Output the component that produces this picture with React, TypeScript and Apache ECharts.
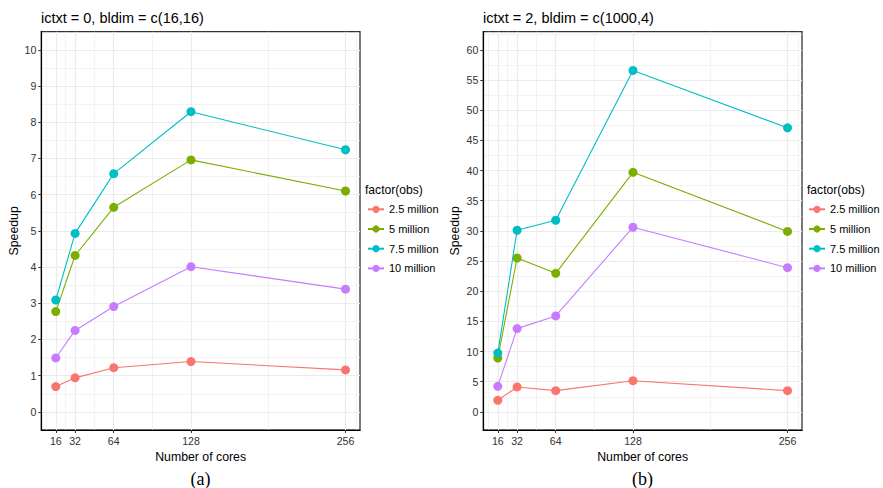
import React, { useEffect, useRef } from "react";
import * as echarts from "echarts";

const cores = [16, 32, 64, 128, 256];
const seriesNames = ["2.5 million", "5 million", "7.5 million", "10 million"];
const colors = ["#F8766D", "#7CAE00", "#00BFC4", "#C77CFF"];

// Panel (a): ictxt = 0, bldim = c(16,16)
const a25 = [0.7, 0.94, 1.22, 1.39, 1.16];
const a5 = [2.77, 4.32, 5.65, 6.96, 6.1];
const a75 = [3.09, 4.93, 6.58, 8.29, 7.24];
const a10 = [1.49, 2.25, 2.91, 4.01, 3.39];

// Panel (b): ictxt = 2, bldim = c(1000,4)
const b25 = [1.92, 4.13, 3.52, 5.17, 3.52];
const b5 = [8.92, 25.5, 22.96, 39.7, 29.9];
const b75 = [9.74, 30.1, 31.76, 56.58, 47.07];
const b10 = [4.23, 13.8, 15.9, 30.6, 23.9];

const yTicksA = [0, 1, 2, 3, 4, 5, 6, 7, 8, 9, 10];
const yMinorA = [0.5, 1.5, 2.5, 3.5, 4.5, 5.5, 6.5, 7.5, 8.5, 9.5];
const yTicksB = [0, 5, 10, 15, 20, 25, 30, 35, 40, 45, 50, 55, 60];
const yMinorB = [2.5, 7.5, 12.5, 17.5, 22.5, 27.5, 32.5, 37.5, 42.5, 47.5, 52.5, 57.5, 62.5];
const xMinor = [8, 24, 48, 96, 192, 265];

const FONT = "'Liberation Sans', Arial, Helvetica, sans-serif";
const GRID_COLOR = "#ebebeb";

export default function App() {
  const ref = useRef<HTMLDivElement>(null);
  useEffect(() => {
    if (!ref.current) return;
    const chart = echarts.init(ref.current, undefined, { renderer: "svg" });

    const grids = [
      { left: 41.3, top: 31.7, width: 318.7, height: 398.3 },
      { left: 483.3, top: 31.7, width: 318.7, height: 398.3 },
    ];

    const panelData = [
      [a25, a5, a75, a10],
      [b25, b5, b75, b10],
    ];
    const yRanges = [
      { min: -0.5, max: 10.5, ticks: yTicksA, minor: yMinorA },
      { min: -3, max: 63, ticks: yTicksB, minor: yMinorB },
    ];

    const xAxes = grids.map((_, i) => ({
      type: "value",
      gridIndex: i,
      min: 4,
      max: 268,
      name: "Number of cores",
      nameLocation: "middle",
      nameGap: 18,
      nameTextStyle: { fontFamily: FONT, fontSize: 12.3, color: "#000" },
      axisLine: { show: true, onZero: false, lineStyle: { color: "#000", width: 1.2 } },
      axisTick: { show: true, length: 3, customValues: cores, lineStyle: { color: "#333", width: 1 } },
      axisLabel: { customValues: cores, fontFamily: FONT, fontSize: 10.6, color: "#333", margin: 5 },
      splitLine: { show: false },
      z: 5,
    }));

    const yAxes = grids.map((_, i) => ({
      type: "value",
      gridIndex: i,
      min: yRanges[i].min,
      max: yRanges[i].max,
      name: "Speedup",
      nameLocation: "middle",
      nameGap: i === 0 ? 21 : 22,
      nameTextStyle: { fontFamily: FONT, fontSize: 12.3, color: "#000" },
      axisLine: { show: true, onZero: false, lineStyle: { color: "#000", width: 1.2 } },
      axisTick: { show: true, length: 3, customValues: yRanges[i].ticks, lineStyle: { color: "#333", width: 1 } },
      axisLabel: { customValues: yRanges[i].ticks, fontFamily: FONT, fontSize: 10.6, color: "#333", margin: 5 },
      splitLine: { show: false },
      z: 5,
    }));

    const series: any[] = [];
    grids.forEach((_, p) => {
      const lineData: any[] = [];
      yRanges[p].minor.forEach((v) =>
        lineData.push({ yAxis: v, lineStyle: { color: GRID_COLOR, width: 0.6, type: "solid" } })
      );
      yRanges[p].ticks.forEach((v) =>
        lineData.push({ yAxis: v, lineStyle: { color: GRID_COLOR, width: 1.2, type: "solid" } })
      );
      xMinor.forEach((v) =>
        lineData.push({ xAxis: v, lineStyle: { color: GRID_COLOR, width: 0.6, type: "solid" } })
      );
      cores.forEach((v) =>
        lineData.push({ xAxis: v, lineStyle: { color: GRID_COLOR, width: 1.2, type: "solid" } })
      );
      series.push({
        type: "line",
        name: "_grid" + p,
        xAxisIndex: p,
        yAxisIndex: p,
        data: [],
        z: 0,
        silent: true,
        markLine: {
          silent: true,
          z: 0,
          symbol: ["none", "none"],
          label: { show: false },
          emphasis: { disabled: true },
          animation: false,
          data: lineData,
        },
      });
      panelData[p].forEach((vals, s) => {
        series.push({
          type: "line",
          name: seriesNames[s],
          xAxisIndex: p,
          yAxisIndex: p,
          data: cores.map((c, k) => [c, vals[k]]),
          symbol: "circle",
          symbolSize: 9,
          showSymbol: true,
          color: colors[s],
          lineStyle: { color: colors[s], width: 1.1 },
          itemStyle: { color: colors[s] },
          z: 2 + s,
        });
      });
    });

    const legendBase = {
      orient: "vertical",
      top: 202.8,
      itemWidth: 16,
      itemHeight: 9,
      itemGap: 6.7,
      padding: 0,
      data: seriesNames,
      textStyle: { fontFamily: FONT, fontSize: 11, color: "#000", lineHeight: 13 },
    };

    chart.setOption({
      animation: false,
      backgroundColor: "#fff",
      title: [
        {
          text: "ictxt = 0, bldim = c(16,16)",
          left: 41,
          top: 10,
          padding: 0,
          textStyle: { fontFamily: FONT, fontSize: 14.5, fontWeight: "normal", color: "#000" },
        },
        {
          text: "ictxt = 2, bldim = c(1000,4)",
          left: 483,
          top: 10,
          padding: 0,
          textStyle: { fontFamily: FONT, fontSize: 14.5, fontWeight: "normal", color: "#000" },
        },
      ],
      grid: grids.map((g) => ({
        ...g,
        show: true,
        borderColor: "#333",
        borderWidth: 1.3,
        backgroundColor: "transparent",
        containLabel: false,
      })),
      xAxis: xAxes,
      yAxis: yAxes,
      legend: [
        { ...legendBase, left: 367 },
        { ...legendBase, left: 808 },
      ],
      graphic: [
        {
          type: "text",
          left: 365,
          top: 184,
          style: { text: "factor(obs)", font: `12.1px ${FONT}`, fill: "#000" },
        },
        {
          type: "text",
          left: 807,
          top: 184,
          style: { text: "factor(obs)", font: `12.1px ${FONT}`, fill: "#000" },
        },
        {
          type: "text",
          x: 200.6,
          y: 479,
          style: {
            text: "(a)",
            font: "18px 'Liberation Serif', 'DejaVu Serif', serif",
            fill: "#000",
            align: "center",
            verticalAlign: "middle",
          },
        },
        {
          type: "text",
          x: 642.6,
          y: 479,
          style: {
            text: "(b)",
            font: "18px 'Liberation Serif', 'DejaVu Serif', serif",
            fill: "#000",
            align: "center",
            verticalAlign: "middle",
          },
        },
      ],
      series,
    });

    return () => chart.dispose();
  }, []);

  return (
    <div
      ref={ref}
      style={{ position: "fixed", left: 0, top: 0, width: 883, height: 488 }}
    />
  );
}
